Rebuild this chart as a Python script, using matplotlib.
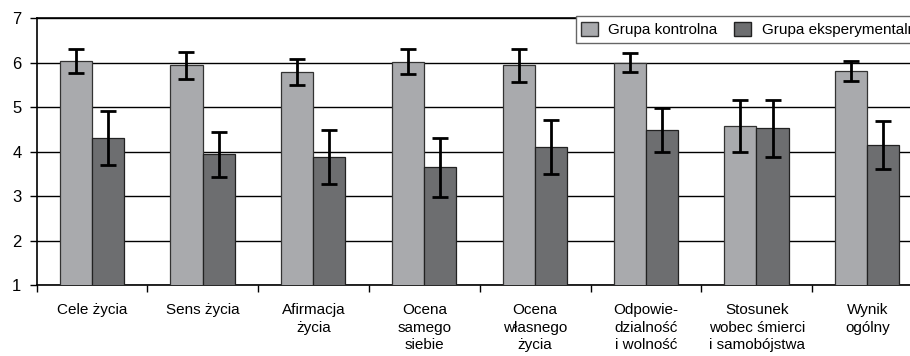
import numpy as np
import matplotlib
matplotlib.use("Agg")
import matplotlib.pyplot as plt
from matplotlib.patches import Patch

plt.rcParams['font.family'] = ['Liberation Sans', 'DejaVu Sans']

# Category labels
categories = [
    "Cele życia",
    "Sens życia",
    "Afirmacja\nżycia",
    "Ocena\nsamego\nsiebie",
    "Ocena\nwłasnego\nżycia",
    "Odpowie-\ndzialność\ni wolność",
    "Stosunek\nwobec śmierci\ni samobójstwa",
    "Wynik\nogólny",
]

# Means and error half-widths
control_means = [6.03, 5.94, 5.79, 6.02, 5.94, 6.00, 4.57, 5.81]
control_err = [0.27, 0.30, 0.30, 0.28, 0.37, 0.22, 0.58, 0.22]
exp_means = [4.31, 3.94, 3.88, 3.65, 4.10, 4.49, 4.52, 4.15]
exp_err = [0.60, 0.50, 0.60, 0.66, 0.61, 0.49, 0.64, 0.53]

light = "#a9aaad"
dark = "#6d6e70"

fig = plt.figure(figsize=(9.1, 3.56), dpi=100)
ax = fig.add_axes([0.0403, 0.1986, 0.974, 0.7508])

x = np.arange(len(categories))
w = 0.29
ax.bar(x - 0.148, control_means, w, bottom=0, color=light, edgecolor="#333333",
       linewidth=0.9, zorder=3)
ax.bar(x + 0.142, exp_means, w, bottom=0, color=dark, edgecolor="#222222",
       linewidth=0.9, zorder=3)
ax.errorbar(x - 0.148, control_means, yerr=control_err, fmt="none", ecolor="black",
            elinewidth=2, capsize=5.7, capthick=2, zorder=4)
ax.errorbar(x + 0.142, exp_means, yerr=exp_err, fmt="none", ecolor="black",
            elinewidth=2, capsize=5.7, capthick=2, zorder=4)

ax.set_xlim(-0.5, len(categories) - 0.5)
ax.set_ylim(1, 7)
ax.set_yticks(range(1, 8))
ax.yaxis.grid(True, color="black", linewidth=1)
ax.set_axisbelow(True)

# boundaries as major ticks, labels at centers as minor ticks
ax.set_xticks(np.arange(-0.5, len(categories), 1.0))
ax.set_xticklabels([])
ax.set_xticks(x, minor=True)
ax.set_xticklabels(categories, minor=True, fontsize=11, linespacing=1.3)
ax.tick_params(axis="x", which="major", length=5, width=1, direction="out")
ax.tick_params(axis="x", which="minor", length=0, pad=13)
ax.tick_params(axis="y", length=5, width=1, direction="out", labelsize=12, pad=6)

for s in ["top", "left", "bottom"]:
    ax.spines[s].set_color("black")
    ax.spines[s].set_linewidth(1.2)
ax.spines["right"].set_visible(False)

handles = [Patch(facecolor=light, edgecolor="#333333", label="Grupa kontrolna"),
           Patch(facecolor=dark, edgecolor="#222222", label="Grupa eksperymentalna")]
leg = ax.legend(handles=handles, loc="upper left", bbox_to_anchor=(0.608, 1.006),
                ncol=2, frameon=True, fancybox=False, fontsize=11,
                handlelength=1.1, handleheight=1.1, handletextpad=0.7,
                columnspacing=1.1, borderpad=0.35, borderaxespad=0)
leg.get_frame().set_edgecolor("#666666")
leg.get_frame().set_linewidth(1)
leg.get_frame().set_alpha(1)
leg.set_zorder(10)

fig.savefig("out.png", dpi=100)
